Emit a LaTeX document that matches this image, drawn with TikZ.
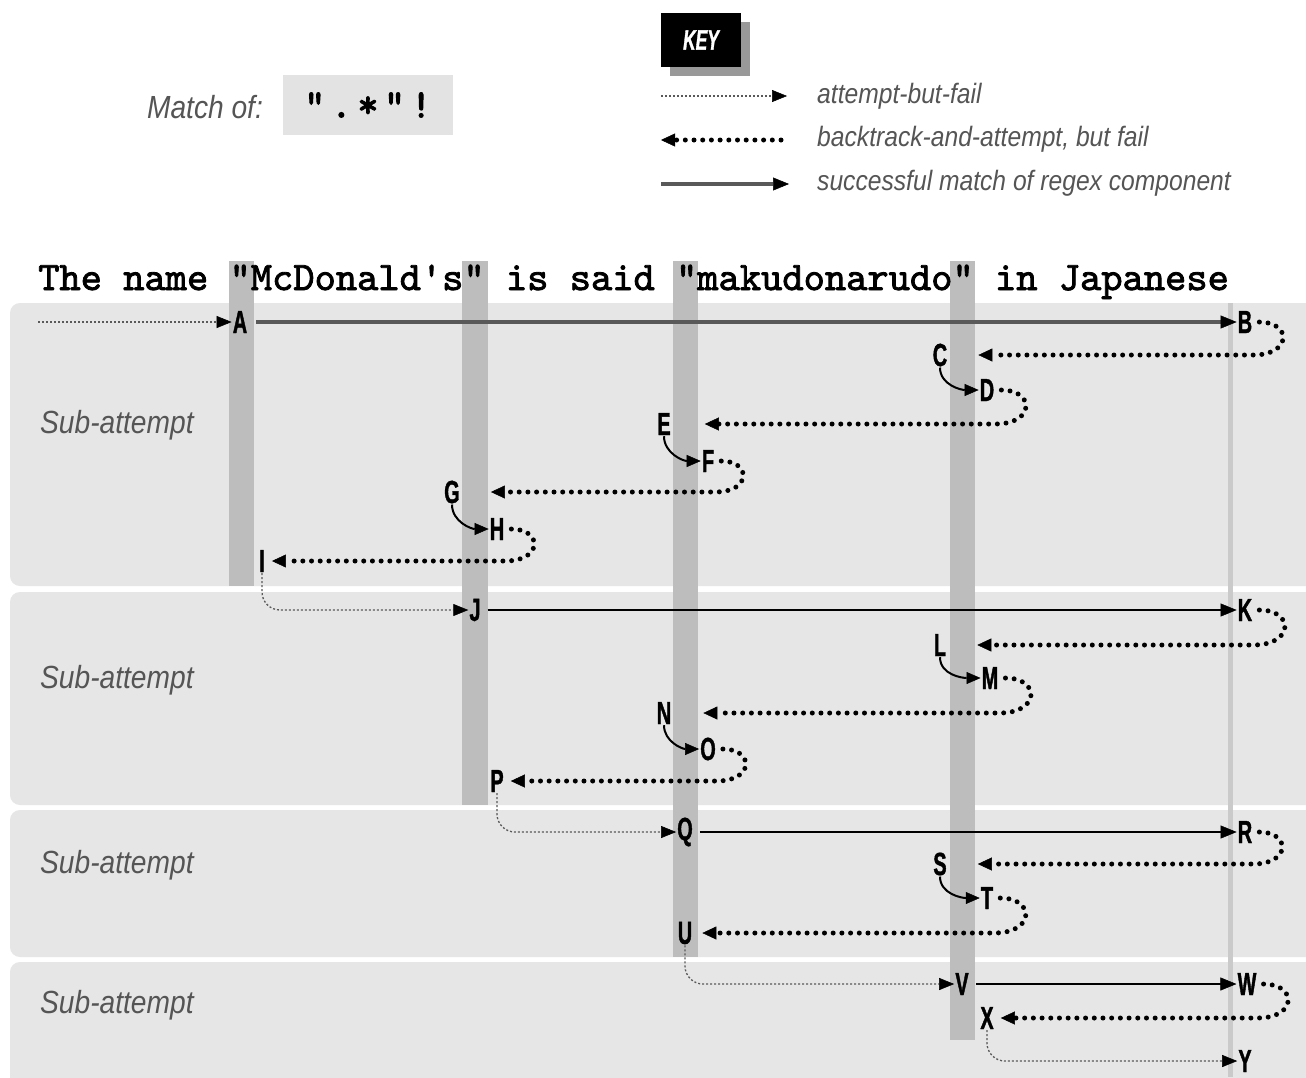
\documentclass[tikz,border=0pt]{standalone}
\usepackage{fontspec}
\newfontfamily\condfont[FakeStretch=0.88]{Liberation Sans}
\newfontfamily\lblfont[FakeStretch=0.62, FakeBold=1.2]{Liberation Sans}
\newfontfamily\titlefont[FakeBold=2]{lmmono10-regular.otf}
\newfontfamily\rxfont[FakeBold=2.5, LetterSpace=14]{lmmono10-regular.otf}
\usetikzlibrary{arrows.meta,shadows}
\definecolor{panelbg}{HTML}{E6E6E6}
\definecolor{barbg}{HTML}{BDBDBD}
\definecolor{txtgray}{HTML}{555555}
\definecolor{rxbg}{HTML}{E3E3E3}
\tikzset{
  lbl/.style={inner sep=1pt, font=\lblfont\bfseries\fontsize{32}{32}\selectfont},
  sub/.style={anchor=west, inner sep=0pt, text=txtgray, font=\condfont\itshape\fontsize{32}{32}\selectfont},
  keytxt/.style={anchor=west, inner sep=0pt, text=txtgray, font=\condfont\itshape\fontsize{28}{28}\selectfont},
  tryfail/.style={line width=1.3pt, black!65, dash pattern=on 2pt off 2pt, -{Triangle[length=15pt,width=12pt,line width=0.5pt,color=black]}},
  backtrack/.style={line width=5pt, line cap=round, dash pattern=on 0pt off 8.7pt, -{Triangle[length=14pt,width=13pt,line width=0.5pt]}},
  success/.style={line width=2.6pt, -{Triangle[length=16pt,width=13pt,line width=0.5pt,color=black]}},
  hop/.style={line width=2pt, -{Triangle[length=14pt,width=12pt,line width=0.5pt]}},
}
\begin{document}
\begin{tikzpicture}[x=1pt,y=-1pt]
\useasboundingbox[fill=white] (0,0) rectangle (1306,1077);
\fill[panelbg, rounded corners=10pt] (10,303) rectangle (1330,586);
\fill[panelbg, rounded corners=10pt] (10,592) rectangle (1330,805);
\fill[panelbg, rounded corners=10pt] (10,810) rectangle (1330,957);
\fill[panelbg, rounded corners=10pt] (10,962) rectangle (1330,1100);
\fill[barbg] (229,261) rectangle (254,586);
\fill[barbg] (462,261) rectangle (488,805);
\fill[barbg] (673,261) rectangle (698,957);
\fill[barbg] (950,261) rectangle (975,1040);
\fill[barbg!80] (1228,303) rectangle (1233,1077);

\node[fill=black, text=white, minimum width=80pt, minimum height=54pt, drop shadow={shadow xshift=9pt, shadow yshift=-9pt, fill=black!40, opacity=1}, font=\lblfont\bfseries\itshape\fontsize{28}{28}\selectfont] (key) at (701,40) {KEY};
\node[text=txtgray, inner sep=0pt, font=\condfont\itshape\fontsize{32}{32}\selectfont] (match) at (205,107) {Match of:};
\node[fill=rxbg, minimum width=170pt, minimum height=60pt, font=\rxfont\fontsize{40}{40}\selectfont] (rx) at (368,105) {".*"!};

\coordinate (k1a) at (661,96);
\coordinate (k1b) at (787,96);
\coordinate (k2a) at (661,140);
\coordinate (k2b) at (781,140);
\coordinate (k3a) at (661,184);
\coordinate (k3b) at (789,184);
\draw[tryfail] (k1a) -- (k1b);
\draw[backtrack] (k2b) -- (k2a);
\draw[success, line width=4pt, black!65] (k3a) -- (k3b);
\node[keytxt] (t1) at (817,96) {attempt-but-fail};
\node[keytxt] (t2) at (817,139) {backtrack-and-attempt, but fail};
\node[keytxt] (t3) at (817,183) {successful match of regex component};

\node[anchor=base west, inner sep=0pt, font=\titlefont\fontsize{40.5}{40.5}\selectfont] (title) at (38,290) {The name "McDonald's" is said "makudonarudo" in Japanese};

\node[sub] (s1) at (40,425) {Sub-attempt};
\node[sub] (s2) at (40,680) {Sub-attempt};
\node[sub] (s3) at (40,865) {Sub-attempt};
\node[sub] (s4) at (40,1005) {Sub-attempt};

\node[lbl] (A) at (240,322) {A};
\node[lbl] (B) at (1245,322) {B};
\node[lbl] (C) at (940,355) {C};
\node[lbl] (D) at (987,390) {D};
\node[lbl] (E) at (664,424) {E};
\node[lbl] (F) at (708,461) {F};
\node[lbl] (G) at (452,492) {G};
\node[lbl] (H) at (497,529) {H};
\node[lbl] (I) at (262,561) {I};
\node[lbl] (J) at (475,610) {J};
\node[lbl] (K) at (1245,610) {K};
\node[lbl] (L) at (940,645) {L};
\node[lbl] (M) at (990,678) {M};
\node[lbl] (N) at (664,713) {N};
\node[lbl] (O) at (708,749) {O};
\node[lbl] (P) at (497,781) {P};
\node[lbl] (Q) at (685,832) {Q};
\node[lbl] (R) at (1245,832) {R};
\node[lbl] (S) at (940,864) {S};
\node[lbl] (T) at (987,898) {T};
\node[lbl] (U) at (685,933) {U};
\node[lbl] (V) at (962,984) {V};
\node[lbl] (W) at (1247,984) {W};
\node[lbl] (X) at (987,1018) {X};
\node[lbl] (Y) at (1245,1061) {Y};

\coordinate (in) at (38,322);
\draw[tryfail] (in) -- (A);
\draw[success, line width=4pt, black!65, shorten <=8pt] (A) -- (B);
\draw[backtrack, shorten <=6pt, shorten >=30pt] (B.east) to[out=0,in=0,looseness=3] (B.east |- C) -- (C);
\draw[hop] (C.south) to[out=-90,in=180] (D.west);
\draw[backtrack, shorten <=6pt, shorten >=33pt] (D.east) to[out=0,in=0,looseness=3] (D.east |- E) -- (E);
\draw[hop] (E.south) to[out=-90,in=180] (F.west);
\draw[backtrack, shorten <=6pt, shorten >=30pt] (F.east) to[out=0,in=0,looseness=3] (F.east |- G) -- (G);
\draw[hop] (G.south) to[out=-90,in=180] (H.west);
\draw[backtrack, shorten <=6pt, shorten >=6pt] (H.east) to[out=0,in=0,looseness=3] (H.east |- I) -- (I);
\draw[tryfail, rounded corners=18pt] (I.south) |- (J);
\draw[success, shorten <=6pt] (J) -- (K);
\draw[backtrack, shorten <=6pt, shorten >=30pt] (K.east) to[out=0,in=0,looseness=3] (K.east |- L) -- (L);
\draw[hop] (L.south) to[out=-90,in=180] (M.west);
\draw[backtrack, shorten <=6pt, shorten >=31pt] (M.east) to[out=0,in=0,looseness=3] (M.east |- N) -- (N);
\draw[hop] (N.south) to[out=-90,in=180] (O.west);
\draw[backtrack, shorten <=6pt, shorten >=6pt] (O.east) to[out=0,in=0,looseness=3] (O.east |- P) -- (P);
\draw[tryfail, rounded corners=18pt] (P.south) |- (Q);
\draw[success, shorten <=6pt] (Q) -- (R);
\draw[backtrack, shorten <=6pt, shorten >=30pt] (R.east) to[out=0,in=0,looseness=3] (R.east |- S) -- (S);
\draw[hop] (S.south) to[out=-90,in=180] (T.west);
\draw[backtrack, shorten <=6pt, shorten >=9pt] (T.east) to[out=0,in=0,looseness=3] (T.east |- U) -- (U);
\draw[tryfail, rounded corners=18pt] (U.south) |- (V);
\draw[success, shorten <=6pt] (V) -- (W);
\draw[backtrack, shorten <=6pt, shorten >=6pt] (W.east) to[out=0,in=0,looseness=3] (W.east |- X) -- (X);
\draw[tryfail, rounded corners=18pt] (X.south) |- (Y);
\end{tikzpicture}
\end{document}
